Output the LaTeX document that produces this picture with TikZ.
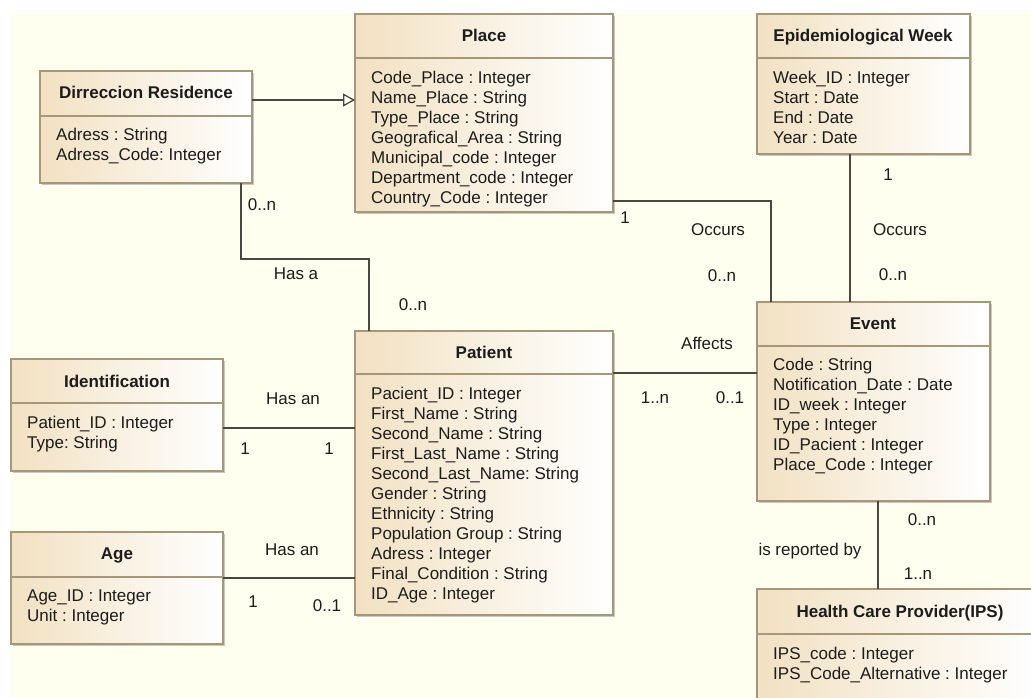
\documentclass[tikz,border=0pt]{standalone}
\usepackage{fontspec}
\setmainfont{Liberation Sans}
\usetikzlibrary{arrows.meta,shadows}
\definecolor{canvas}{HTML}{FFFFF0}
\definecolor{boxtan}{HTML}{F2E1C2}
\definecolor{boxline}{HTML}{A6967A}
\definecolor{wire}{HTML}{4A4640}
\definecolor{ink}{HTML}{1C1C1C}
\frenchspacing

\begin{document}
\begin{tikzpicture}[x=1pt, y=-1pt,
    classbox/.style={draw=boxline, line width=1.4pt, left color=boxtan, right color=white,
        inner sep=0, outer sep=0, anchor=north west,
        drop shadow={shadow xshift=2pt, shadow yshift=-2pt, opacity=0.3, fill=black!70}},
    seprule/.style={draw=boxline, line width=1.3pt},
    ctitle/.style={font=\fontsize{17}{20}\selectfont\bfseries, text=ink, inner sep=0,
        text height=12.2pt, text depth=0pt},
    attr/.style={font=\fontsize{17}{20}\selectfont, text=ink, inner sep=0,
        text height=12.2pt, text depth=0pt, anchor=west},
    lbl/.style={font=\fontsize{17}{20}\selectfont, text=ink, inner sep=0,
        text height=12.2pt, text depth=0pt},
    link/.style={draw=wire, line width=1.3pt},
    gen/.style={link, -{Triangle[length=12pt, width=13pt, fill=white]}}]

    \useasboundingbox (0,0) rectangle (1031,698);
    \clip (0,0) rectangle (1031,698);
    \fill[canvas] (10,13) rectangle (1031,698);

    % classes
    \node[classbox, minimum width=212, minimum height=112] (dirres) at (40,71) {};
    \draw[seprule] (dirres.west |- 0,116) -- (dirres.east |- 0,116);
    \node[ctitle] (dirres-t) at (146,92) {Dirreccion Residence};
    \foreach \a [count=\i from 0] in {Adress : String, Adress\_Code: Integer}
        \node[attr] (dirres-a\i) at (56,134+20*\i) {\a};

    \node[classbox, minimum width=258, minimum height=198] (place) at (355,14) {};
    \draw[seprule] (place.west |- 0,58) -- (place.east |- 0,58);
    \node[ctitle] (place-t) at (484,35) {Place};
    \foreach \a [count=\i from 0] in {Code\_Place : Integer, Name\_Place : String,
        Type\_Place : String, Geografical\_Area : String, Municipal\_code : Integer,
        Department\_code : Integer, Country\_Code : Integer}
        \node[attr] (place-a\i) at (371,77+20*\i) {\a};

    \node[classbox, minimum width=213, minimum height=140] (epiweek) at (757,14) {};
    \draw[seprule] (epiweek.west |- 0,58) -- (epiweek.east |- 0,58);
    \node[ctitle] (epiweek-t) at (863,35) {Epidemiological Week};
    \foreach \a [count=\i from 0] in {Week\_ID : Integer, Start : Date, End : Date, Year : Date}
        \node[attr] (epiweek-a\i) at (773,77+20*\i) {\a};

    \node[classbox, minimum width=233, minimum height=199] (event) at (757,302) {};
    \draw[seprule] (event.west |- 0,346) -- (event.east |- 0,346);
    \node[ctitle] (event-t) at (873,323) {Event};
    \foreach \a [count=\i from 0] in {Code : String, Notification\_Date : Date,
        ID\_week : Integer, Type : Integer, ID\_Pacient : Integer, Place\_Code : Integer}
        \node[attr] (event-a\i) at (773,364+20*\i) {\a};

    \node[classbox, minimum width=258, minimum height=284] (patient) at (355,331) {};
    \draw[seprule] (patient.west |- 0,374) -- (patient.east |- 0,374);
    \node[ctitle] (patient-t) at (484,352) {Patient};
    \foreach \a [count=\i from 0] in {Pacient\_ID : Integer, First\_Name : String,
        Second\_Name : String, First\_Last\_Name : String, Second\_Last\_Name: String,
        Gender : String, Ethnicity : String, Population Group : String,
        Adress : Integer, Final\_Condition : String, ID\_Age : Integer}
        \node[attr] (patient-a\i) at (371,393+20*\i) {\a};

    \node[classbox, minimum width=212, minimum height=112] (ident) at (11,359) {};
    \draw[seprule] (ident.west |- 0,403) -- (ident.east |- 0,403);
    \node[ctitle] (ident-t) at (117,381) {Identification};
    \foreach \a [count=\i from 0] in {Patient\_ID : Integer, Type: String}
        \node[attr] (ident-a\i) at (27,422+20*\i) {\a};

    \node[classbox, minimum width=212, minimum height=112] (age) at (11,532) {};
    \draw[seprule] (age.west |- 0,577) -- (age.east |- 0,577);
    \node[ctitle] (age-t) at (117,553) {Age};
    \foreach \a [count=\i from 0] in {Age\_ID : Integer, Unit : Integer}
        \node[attr] (age-a\i) at (27,595+20*\i) {\a};

    \node[classbox, minimum width=286, minimum height=140] (ips) at (757,589) {};
    \draw[seprule] (ips.west |- 0,634) -- (ips.east |- 0,634);
    \node[ctitle] (ips-t) at (900,611) {Health Care Provider(IPS)};
    \foreach \a [count=\i from 0] in {IPS\_code : Integer, IPS\_Code\_Alternative : Integer}
        \node[attr] (ips-a\i) at (773,653+20*\i) {\a};

    % associations
    \draw[gen] (dirres.east |- 0,100) -- (place.west |- 0,100);
    \draw[link] (dirres.south -| 241,0) -- (241,259) -- (369,259) -- (patient.north -| 369,0);
    \draw[link] (place.east |- 0,201) -- (771,201) -- (event.north -| 771,0);
    \draw[link] (epiweek.south -| 850,0) -- (event.north -| 850,0);
    \draw[link] (patient.east |- 0,373) -- (event.west |- 0,373);
    \draw[link] (ident.east |- 0,428) -- (patient.west |- 0,428);
    \draw[link] (age.east |- 0,578) -- (patient.west |- 0,578);
    \draw[link] (event.south -| 878,0) -- (ips.north -| 878,0);

    % multiplicities and roles
    \node[lbl] (m-dir) at (262,204) {0..n};
    \node[lbl] (r-hasa) at (296,273) {Has a};
    \node[lbl] (m-pat1) at (413,304) {0..n};
    \node[lbl] (m-place) at (625,217) {1};
    \node[lbl] (r-occ1) at (718,229) {Occurs};
    \node[lbl] (m-ev1) at (722,275) {0..n};
    \node[lbl] (m-week) at (888,174) {1};
    \node[lbl] (r-occ2) at (900,229) {Occurs};
    \node[lbl] (m-ev2) at (893,274) {0..n};
    \node[lbl] (r-aff) at (707,343) {Affects};
    \node[lbl] (m-pat2) at (655,397) {1..n};
    \node[lbl] (m-ev3) at (730,397) {0..1};
    \node[lbl] (r-hasan1) at (293,398) {Has an};
    \node[lbl] (m-id) at (245,448) {1};
    \node[lbl] (m-pat3) at (329,448) {1};
    \node[lbl] (r-hasan2) at (292,549) {Has an};
    \node[lbl] (m-age) at (253,601) {1};
    \node[lbl] (m-pat4) at (327,605) {0..1};
    \node[lbl] (m-ev4) at (922,519) {0..n};
    \node[lbl] (r-rep) at (810,549) {is reported by};
    \node[lbl] (m-ips) at (918,573) {1..n};
\end{tikzpicture}
\end{document}
